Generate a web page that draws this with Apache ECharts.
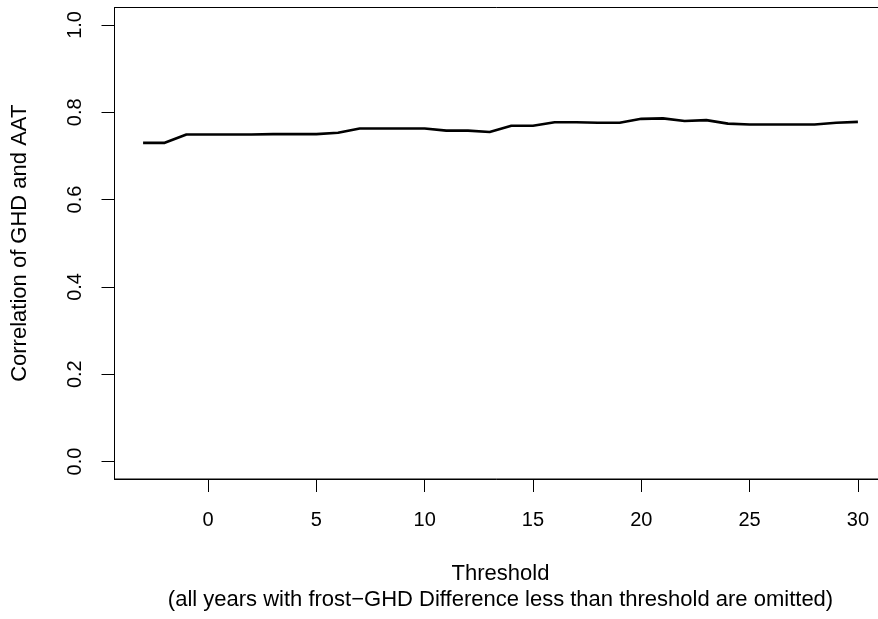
<!DOCTYPE html>
<html>
<head>
<meta charset="utf-8">
<script src="https://cdn.jsdelivr.net/npm/echarts@6/dist/echarts.min.js"></script>
<style>
html,body{margin:0;padding:0;background:#fff;}
#chart{width:878px;height:619px;}
</style>
</head>
<body>
<div id="chart"></div>
<script>
const thresholds = [-3,-2,-1,0,1,2,3,4,5,6,7,8,9,10,11,12,13,14,15,16,17,18,19,20,21,22,23,24,25,26,27,28,29,30];
const correlations = [0.730,0.730,0.749,0.749,0.749,0.749,0.750,0.750,0.750,0.753,0.763,0.763,0.763,0.763,0.758,0.758,0.755,0.769,0.769,0.777,0.777,0.776,0.776,0.785,0.786,0.780,0.782,0.774,0.772,0.772,0.772,0.772,0.776,0.778];
const xTicks = [0,5,10,15,20,25,30];
const yTicks = [0,0.2,0.4,0.6,0.8,1.0];
const xTitle = 'Threshold';
const xSubtitle = '(all years with frost\u2212GHD Difference less than threshold are omitted)';
const yTitle = 'Correlation of GHD and AAT';

const font = '"Liberation Sans", Arial, Helvetica, sans-serif';
const chart = echarts.init(document.getElementById('chart'), null, {renderer:'canvas'});
chart.setOption({
  animation: false,
  backgroundColor: '#fff',
  grid: {left: 114.5, top: 7.5, width: 772, height: 471.5, show: true, borderColor: '#000', borderWidth: 1,
    containLabel: false, outerBoundsMode: 'none'},
  xAxis: {
    type: 'value', min: -4.32, max: 31.32,
    axisLine: {show: true, onZero: false, lineStyle: {color: '#000', width: 1}},
    axisTick: {show: true, length: 13, customValues: xTicks, lineStyle: {color: '#000'}},
    axisLabel: {customValues: xTicks, color: '#000', fontFamily: font, fontSize: 20, margin: 31},
    splitLine: {show: false},
    name: xTitle + '\n' + xSubtitle,
    nameLocation: 'middle', nameGap: 81.5,
    nameTextStyle: {color: '#000', fontFamily: font, fontSize: 22, lineHeight: 26}
  },
  yAxis: {
    type: 'value', min: -0.04, max: 1.04,
    axisLine: {show: true, onZero: false, lineStyle: {color: '#000', width: 1}},
    axisTick: {show: true, length: 13, customValues: yTicks, lineStyle: {color: '#000'}},
    axisLabel: {customValues: yTicks, color: '#000', fontFamily: font, fontSize: 20, rotate: 90, margin: 29.5,
      formatter: v => v.toFixed(1)},
    splitLine: {show: false},
    name: yTitle, nameLocation: 'middle', nameGap: 83.5, nameRotate: 90,
    nameTextStyle: {color: '#000', fontFamily: font, fontSize: 22}
  },
  series: [{
    type: 'line',
    data: thresholds.map((t, i) => [t, correlations[i]]),
    showSymbol: false,
    lineStyle: {color: '#000', width: 2.6},
    clip: false
  }]
});
</script>
</body>
</html>
